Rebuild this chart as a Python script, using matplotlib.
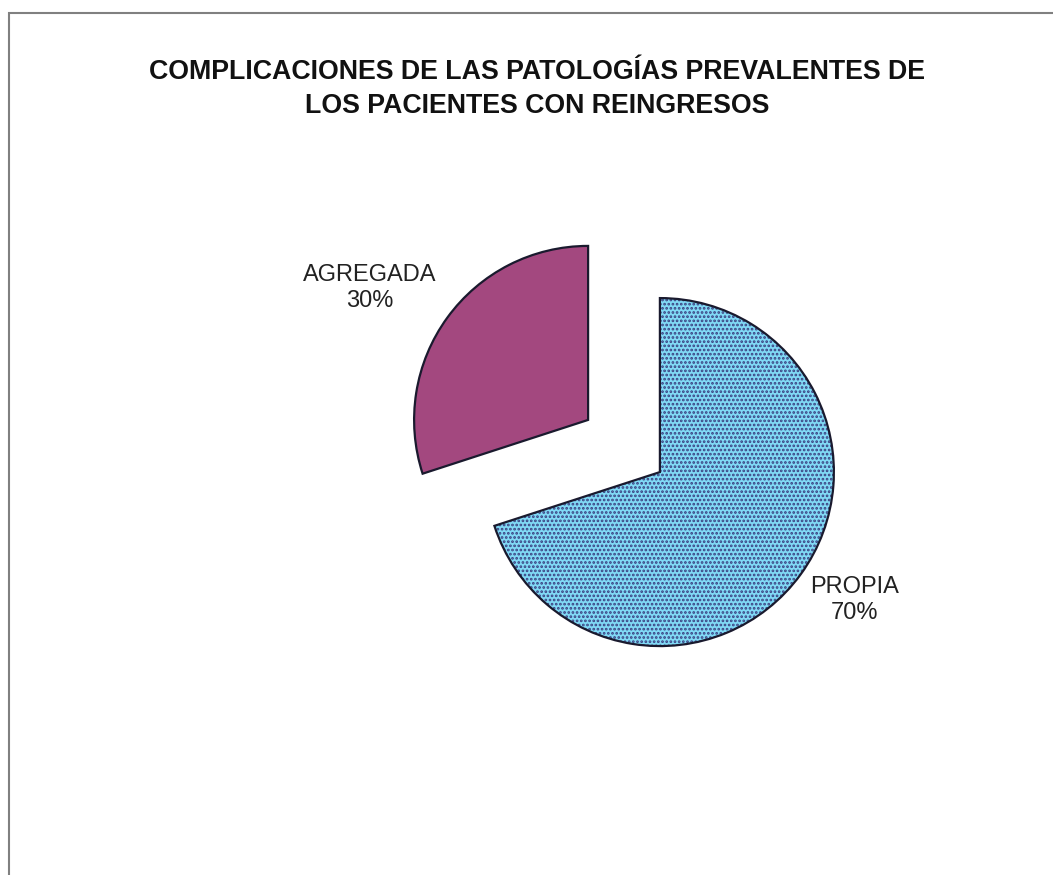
import matplotlib
matplotlib.use("Agg")
import matplotlib.pyplot as plt
from matplotlib.patches import Rectangle
from matplotlib.colors import to_rgba

categories = ["PROPIA", "AGREGADA"]
values = [70, 30]
colors = ["#80d9f5", "#a3487f"]
title = "COMPLICACIONES DE LAS PATOLOGÍAS PREVALENTES DE\nLOS PACIENTES CON REINGRESOS"

W, H = 1053, 875
R = 174.0  # pixels per data unit (pie radius)

plt.rcParams['font.family'] = ['Liberation Sans', 'DejaVu Sans']
plt.rcParams['hatch.linewidth'] = 1.3

fig = plt.figure(figsize=(W / 100, H / 100), dpi=100)
fig.patch.set_facecolor("white")
ax = fig.add_axes([0, 0, 1, 1])

cx, cy = 624 / R, (H - 446) / R
wedges, texts = ax.pie(values, colors=colors, startangle=90, counterclock=False,
                       center=(cx, cy), radius=1.0, explode=[0.255, 0.255],
                       wedgeprops=dict(edgecolor="#1a1a2e", linewidth=1.6))
wedges[0].set_hatch("....")
try:
    wedges[0].set_hatchcolor("#3a3f80")
except AttributeError:
    wedges[0]._hatch_color = to_rgba("#3a3f80")

ax.set_xlim(0, W / R)
ax.set_ylim(0, H / R)
ax.set_aspect("auto")
ax.axis("off")

label_pos = {"PROPIA": (855, 600), "AGREGADA": (370, 288)}
for c, v in zip(categories, values):
    px, py = label_pos[c]
    ax.text(px / R, (H - py) / R, f"{c}\n{v}%", ha="center", va="center",
            fontsize=17, color="#222222", linespacing=1.2)

fig.text(537 / W, 1 - 89 / H, title, ha="center", va="center", fontsize=19.3,
         fontweight="bold", color="#111111", linespacing=1.4)

fig.add_artist(Rectangle((9 / W, -0.05), 1.2, (H - 13) / H + 0.05,
                         transform=fig.transFigure, fill=False,
                         edgecolor="#808080", linewidth=1.5))

fig.savefig("out.png", dpi=100)
